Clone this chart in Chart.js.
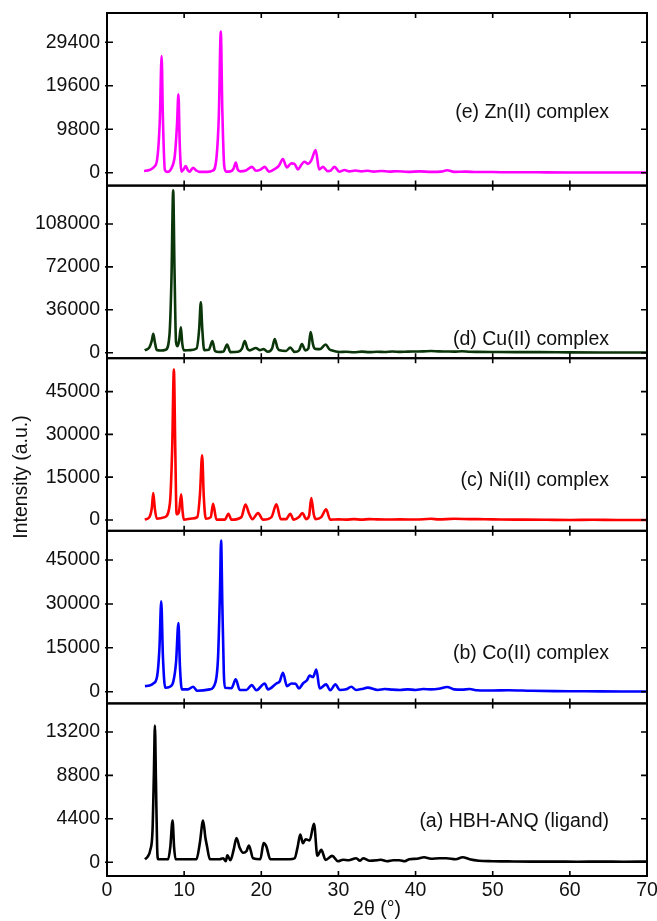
<!DOCTYPE html>
<html>
<head>
<meta charset="utf-8">
<script src="https://cdn.jsdelivr.net/npm/chart.js@4/dist/chart.umd.min.js"></script>
<style>
  html, body { margin: 0; padding: 0; background: #fff; }
  canvas { display: block; }
</style>
</head>
<body>
<canvas id="c" width="657" height="921"></canvas>
<script>
// ---------------- data ----------------
const xTickValues = [0, 10, 20, 30, 40, 50, 60, 70];

const ligandTheta = [4.92,5.3,5.6,5.9,6.08,6.21,6.35,6.5,6.64,7.93,8.2,8.5,8.7,8.89,11.6,12.03,12.46,12.75,12.97,13.33,14.6,15.05,15.4,15.6,16.0,16.43,16.78,17.2,17.65,18.07,18.4,18.93,19.88,20.3,20.65,21.17,23.68,24.33,24.7,25.05,25.4,25.75,26.27,26.83,27.27,27.78,28.34,29.19,29.93,30.6,31.3,32.3,32.8,33.2,34,35,35.5,36.3,37.1,37.9,38.6,39.2,40.2,41.1,42.0,43.1,44,45.2,46.1,47,48.2,50,52,55,58,61,64,67,70];
const ligandI = [300,600,1200,3200,9000,13860,8000,1500,300,300,1500,4230,1500,300,300,1930,4230,2500,1600,300,300,400,100,700,200,1300,2460,1460,950,1100,1700,400,300,1930,1600,300,300,400,1500,2800,1930,2330,2200,3900,650,1250,230,640,100,250,200,400,150,400,150,200,250,100,200,200,100,300,350,500,350,400,400,300,500,300,150,100,80,60,60,50,60,50,60];

const coTheta = [4.92,5.5,6.0,6.5,6.8,7.03,7.25,7.55,8.15,8.6,8.95,9.26,9.45,9.7,10.5,11.17,11.68,13.33,13.97,14.4,14.65,14.79,14.95,15.15,15.3,16.13,16.69,17.21,18.07,18.76,19.36,20.44,20.87,21.95,22.38,22.81,23.33,23.9,24.45,24.88,25.4,25.92,26.27,26.7,27.14,27.56,28.4,28.93,29.62,30.15,31.0,31.66,32.3,33.0,33.8,35.1,36,37,38,39,40,41,42,43,44.1,45,46,47,48,50,52,55,58,61,64,67,70];
const coI = [1900,2100,2800,5300,15000,30900,12000,1360,1700,3500,10000,23500,9000,800,800,1700,340,800,2500,12000,35000,51700,30000,6000,1360,1200,4200,600,600,2250,500,2800,800,2800,3500,6500,1900,2800,2700,1100,2800,3900,5500,5000,7600,1100,2500,500,2500,600,800,1700,600,900,1400,600,900,700,600,800,600,900,800,1000,1600,800,700,900,500,400,500,300,200,150,100,80,50];

const niTheta = [4.9,5.5,5.8,6.0,6.2,6.45,7.5,8.15,8.45,8.67,8.85,9.02,9.32,9.62,9.8,9.96,11.0,11.7,12.05,12.33,12.55,12.8,13.45,13.75,14.19,15.27,15.74,16.13,17.42,17.95,18.42,18.85,19.58,20.23,21.32,21.96,22.52,23.23,23.76,24.2,24.88,25.32,25.84,26.2,26.48,26.8,27.04,27.77,28.41,28.93,30,31,32,33,34,35,36,38,40,42,43,45,47,49,51,54,57,60,63,66,70];
const niI = [100,1000,4000,9400,4000,450,1000,5700,25000,52700,25000,2000,2800,9000,3000,100,500,1000,9000,22700,8000,450,1000,5700,100,100,2200,100,1000,5400,2200,300,2400,100,1000,5500,300,300,2200,100,1000,2400,300,1500,7700,2000,300,1000,3700,100,200,100,300,100,300,200,150,200,150,400,200,400,300,250,150,100,50,0,50,0,0];

const cuTheta = [4.9,5.5,5.8,6.0,6.2,6.45,7.0,7.6,8.1,8.35,8.58,8.75,8.95,9.15,9.35,9.58,9.75,9.95,10.8,11.6,11.95,12.16,12.35,12.6,13.2,13.67,14.0,14.5,15.1,15.57,16.0,17.0,17.5,17.86,18.2,18.5,19.3,19.8,20.3,20.86,21.4,21.74,22.1,22.4,23.2,23.76,24.3,24.9,25.27,25.7,26.1,26.4,26.7,26.95,27.6,28.34,28.8,29.1,30.15,31,32,33,34,35,36,37,38,39,40,41,42,43,44,45,46,47,48,50,53,56,60,64,67,70];
const cuI = [2000,4500,10000,15900,9000,2200,1800,2500,15000,60000,136300,70000,9000,5500,10000,21300,8000,2000,2200,3500,20000,42300,20000,2200,2500,9800,1500,600,1000,6900,500,800,3500,9800,3500,2000,4000,2200,3000,800,3500,11500,4000,2000,1500,4300,700,2000,7300,2000,3500,17300,7000,3400,3000,6900,3000,2000,600,800,400,900,500,800,600,1000,700,900,1000,1100,1400,1100,1000,900,1200,800,700,600,500,500,300,200,200,150];

const znTheta = [4.8,5.5,6.1,6.5,6.85,7.08,7.25,7.5,7.8,8.4,8.8,9.08,9.26,9.42,9.65,9.95,10.2,10.5,10.7,11.15,11.6,12.0,13.0,13.7,14.2,14.5,14.75,14.95,15.2,15.45,16.0,16.4,16.7,16.95,17.3,18.0,18.8,19.3,19.9,20.45,21.0,21.6,22.3,22.8,23.3,23.9,24.3,24.75,25.2,25.6,26.05,26.5,27.05,27.5,28.0,28.6,29.0,29.5,30.1,30.8,31.4,32.2,33.0,33.8,34.6,35.6,36.6,37.6,39,40.5,42,43.3,44.1,45,46.5,48,50,52,54,57,60,63,66,70];
const znI = [400,600,1300,3000,12000,26300,12000,600,200,1200,4000,11000,17700,7000,250,800,1500,500,250,1100,500,200,200,450,3500,13000,31800,14000,1500,250,300,900,2300,700,300,500,1330,450,700,1330,250,700,1600,3100,1200,2100,2000,750,1800,2460,2000,2840,5100,750,1330,360,500,1330,250,600,300,500,300,450,250,400,250,350,200,300,200,250,550,200,250,150,150,100,120,80,60,50,40,40];

// panels from bottom (a) to top (e)
const panelLabels = ['(a) HBH-ANQ (ligand)', '(b) Co(II) complex', '(c) Ni(II) complex', '(d) Cu(II) complex', '(e) Zn(II) complex'];
const panelColors = ['#000000', '#0000ff', '#ff0000', '#0a360a', '#ff00ff'];
const yTicksA = [0, 4400, 8800, 13200];
const yTicksB = [0, 15000, 30000, 45000];
const yTicksC = [0, 15000, 30000, 45000];
const yTicksD = [0, 36000, 72000, 108000];
const yTicksE = [0, 9800, 19600, 29400];
const yMinA = -1400, yMaxA = 16100;
const yMinB = -4000, yMaxB = 55000;
const yMinC = -3800, yMaxC = 56700;
const yMinD = -4600, yMaxD = 140200;
const yMinE = -2900, yMaxE = 36000;
const xTitle = '2θ (°)';
const yTitle = 'Intensity (a.u.)';

// ---------------- build ----------------
const FONT = 'Liberation Sans, Arial, Helvetica, sans-serif';
const FS = 19.5;
const TXT = '#111';

const series = [
  [ligandTheta, ligandI], [coTheta, coI], [niTheta, niI], [cuTheta, cuI], [znTheta, znI]
];
const ids = ['yA', 'yB', 'yC', 'yD', 'yE'];
const ticksList = [yTicksA, yTicksB, yTicksC, yTicksD, yTicksE];
const mins = [yMinA, yMinB, yMinC, yMinD, yMinE];
const maxs = [yMaxA, yMaxB, yMaxC, yMaxD, yMaxE];
const labelFrac = [0.685, 0.714, 0.71, 0.89, 0.58];

const datasets = series.map((s, i) => ({
  label: panelLabels[i],
  data: s[0].map((t, k) => ({ x: t, y: s[1][k] })),
  yAxisID: ids[i],
  borderColor: panelColors[i],
  borderWidth: 2.6,
  pointRadius: 0,
  fill: false,
  cubicInterpolationMode: 'monotone'
}));

const scales = {
  x: {
    type: 'linear', position: 'bottom', min: 0, max: 70,
    grid: { display: false, drawTicks: false },
    border: { display: false },
    afterBuildTicks: sc => { sc.ticks = xTickValues.map(v => ({ value: v })); },
    afterFit: sc => { sc.paddingLeft = 0; sc.paddingRight = 0; sc.height = 45; },
    ticks: { color: TXT, padding: 3, font: { family: FONT, size: FS }, callback: v => String(v), maxRotation: 0, autoSkip: false },
    title: { display: true, text: xTitle, color: TXT, padding: { top: 0, bottom: 0 }, font: { family: FONT, size: FS } }
  }
};
ids.forEach((id, i) => {
  scales[id] = {
    type: 'linear', position: 'left', stack: 'xrd', stackWeight: 1,
    min: mins[i], max: maxs[i],
    grid: { display: false, drawTicks: false },
    border: { display: false },
    afterBuildTicks: sc => { sc.ticks = ticksList[i].map(v => ({ value: v })); },
    afterFit: sc => { sc.width = 107; sc.paddingTop = 0; sc.paddingBottom = 0; },
    ticks: { color: TXT, padding: 7, font: { family: FONT, size: FS }, callback: v => String(v), autoSkip: false }
  };
});

const framePlugin = {
  id: 'frame',
  afterDatasetsDraw(chart) {
    const { ctx, chartArea: ca, scales: sc } = chart;
    const xs = sc.x;
    ctx.save();
    ids.forEach((id, i) => {
      const s = sc[id];
      ctx.strokeStyle = '#000';
      ctx.lineWidth = 2;
      ctx.strokeRect(ca.left, s.top, ca.right - ca.left, s.bottom - s.top);
      ctx.lineWidth = 1.6;
      ctx.beginPath();
      s.ticks.forEach(t => {
        const py = s.getPixelForValue(t.value);
        ctx.moveTo(ca.left - 2, py); ctx.lineTo(ca.left + 6, py);
        ctx.moveTo(ca.right - 6, py); ctx.lineTo(ca.right, py);
      });
      xTickValues.forEach(v => {
        const px = xs.getPixelForValue(v);
        ctx.moveTo(px, s.top); ctx.lineTo(px, s.top + 5);
        ctx.moveTo(px, s.bottom - 5); ctx.lineTo(px, s.bottom);
      });
      ctx.stroke();
      ctx.fillStyle = TXT;
      ctx.font = FS + 'px ' + FONT;
      ctx.textAlign = 'right';
      ctx.textBaseline = 'middle';
      ctx.fillText(panelLabels[i], ca.right - 38, s.top + labelFrac[i] * (s.bottom - s.top));
    });
    ctx.translate(22, 477);
    ctx.rotate(-Math.PI / 2);
    ctx.textAlign = 'center';
    ctx.textBaseline = 'middle';
    ctx.fillStyle = TXT;
    ctx.font = FS + 'px ' + FONT;
    ctx.fillText(yTitle, 0, 0);
    ctx.restore();
  }
};

new Chart(document.getElementById('c'), {
  type: 'line',
  data: { datasets },
  options: {
    responsive: false,
    devicePixelRatio: 1,
    animation: false,
    parsing: true,
    layout: { padding: { left: 0, right: 10, top: 13, bottom: 0 } },
    plugins: { legend: { display: false }, tooltip: { enabled: false } },
    scales
  },
  plugins: [framePlugin]
});
</script>
</body>
</html>
